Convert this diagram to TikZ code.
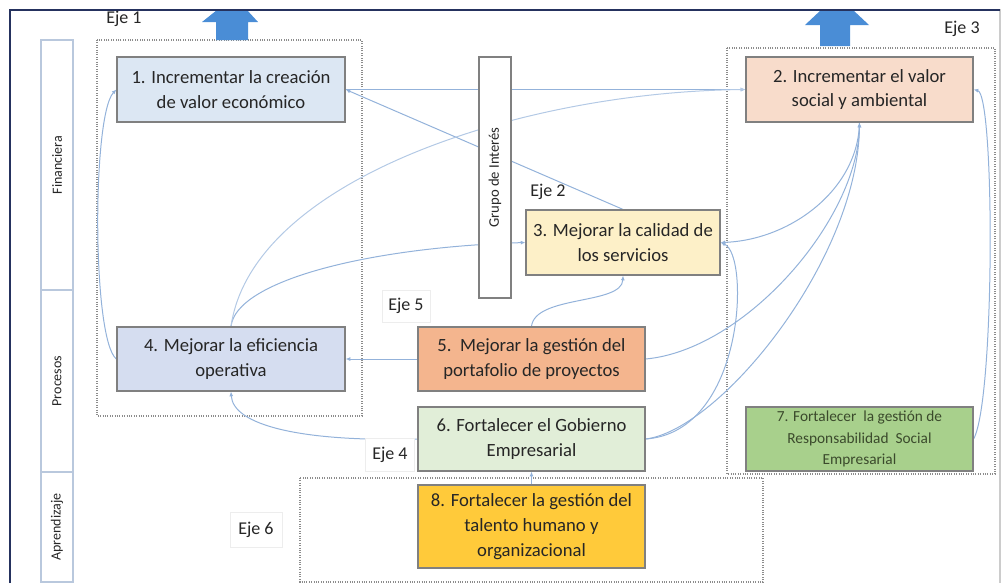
\documentclass[tikz,border=0pt]{standalone}
\usepackage{fontspec}
\setmainfont{Carlito}
\usetikzlibrary{arrows.meta}
\pgfdeclarelayer{back}
\pgfdeclarelayer{bg}
\pgfsetlayers{back,bg,main}
\definecolor{conncol}{HTML}{93B2DA}
\definecolor{boxline}{HTML}{808080}
\definecolor{dashcol}{HTML}{8C8C8C}
\definecolor{bluearrow}{HTML}{4A8DD6}
\definecolor{framecol}{HTML}{25325E}
\definecolor{sidecol}{HTML}{B9C8DD}
\definecolor{txt}{HTML}{262626}
\definecolor{cA}{HTML}{DCE7F3}
\definecolor{cB}{HTML}{F8DCCB}
\definecolor{cC}{HTML}{FDF0C8}
\definecolor{cD}{HTML}{D5DDF0}
\definecolor{cE}{HTML}{F4B58E}
\definecolor{cF}{HTML}{E1EED8}
\definecolor{cG}{HTML}{A8D08C}
\definecolor{cH}{HTML}{FFCA3A}
\definecolor{txtG}{HTML}{3B4A2C}
\tikzset{
  goal/.style={draw=boxline, line width=0.9pt, text=txt, align=center,
    inner sep=1pt, font=\fontsize{14}{18.5}\selectfont},
  conn/.style={draw=conncol, line width=0.75pt, -{Latex[length=3.5pt,width=3pt]}},
  axisbox/.style={draw=dashcol, line width=0.8pt, densely dotted},
  sidebox/.style={draw=sidecol, line width=0.8pt, fill=white, inner sep=0pt},
  sidetext/.style={rotate=90, text=txt, font=\fontsize{10.5}{12}\selectfont},
  ejelabel/.style={text=txt, font=\fontsize{13.5}{15}\selectfont},
  ejebox/.style={draw=black!7, fill=white, line width=0.6pt},
  bigarrow/.style={fill=bluearrow, draw=none}
}
\begin{document}
\begin{tikzpicture}[x=0.75pt,y=-0.75pt]
\useasboundingbox (0,0) rectangle (1004,583);
% frame
\draw[black!20, line width=0.8pt] (10,10) -- (1000,10) -- (1000,583);
% big arrows
\fill[bluearrow] (216,40) -- (216,22) -- (202,22) -- (217,10) -- (247,10) -- (258,22) -- (248,22) -- (248,40) -- cycle;
\fill[bluearrow] (820,46) -- (820,25) -- (805,25) -- (821,10) -- (853,10) -- (869,25) -- (850,25) -- (850,46) -- cycle;
\draw[framecol, line width=1.8pt] (10,583) -- (10,10) -- (1000,10);

% side column
\node[sidebox, minimum width=24pt, minimum height=187.5pt] (fin) at (57,165) {};
\node[sidetext] (fint) at (fin.center) {Financiera};
\node[sidebox, minimum width=24pt, minimum height=136.5pt] (pro) at (57,381) {};
\node[sidetext] (prot) at (pro.center) {Procesos};
\node[sidebox, minimum width=24pt, minimum height=82.5pt] (apr) at (57,527) {};
\node[sidetext] (aprt) at (apr.center) {Aprendizaje};

% dashed axis boxes
\begin{pgfonlayer}{back}
\draw[axisbox] (97,40) rectangle (362,416);
\draw[axisbox] (727,48) rectangle (995,474);
\draw[axisbox] (300,478) rectangle (763,582);
\end{pgfonlayer}

% axis labels
\node[ejelabel] (l1) at (124,19) {Eje 1};
\node[ejelabel] (l3) at (962,29) {Eje 3};
\node[ejelabel] (l2) at (548,192) {Eje 2};
\node[ejebox, minimum width=36pt, minimum height=24pt] (b5) at (406,306) {};
\node[ejelabel] (l5) at (b5.center) {Eje 5};
\node[ejebox, minimum width=37pt, minimum height=25pt] (b4) at (390,455) {};
\node[ejelabel] (l4) at (b4.center) {Eje 4};
\node[ejebox, minimum width=39pt, minimum height=26pt] (b6) at (256,530) {};
\node[ejelabel] (l6) at (b6.center) {Eje 6};

% grupo de interes
\node[draw=boxline, line width=0.8pt, fill=white, minimum width=24pt, minimum height=180.75pt] (gi) at (495,177.5) {};
\node[sidetext, font=\fontsize{11}{12}\selectfont] (git) at (gi.center) {Grupo de Interés};

% goals
\node[goal, fill=cA, minimum width=171pt, minimum height=48.75pt] (n1) at (231,89.5) {1. Incrementar la creación\\de valor económico};
\node[goal, fill=cB, minimum width=170.25pt, minimum height=48.75pt] (n2) at (859.5,89.5) {2. Incrementar el valor\\social y ambiental};
\node[goal, fill=cC, minimum width=145.5pt, minimum height=48.75pt] (n3) at (623,242.5) {3. Mejorar la calidad de\\los servicios};
\node[goal, fill=cD, minimum width=171pt, minimum height=48pt] (n4) at (231,359) {4. Mejorar la eficiencia\\operativa};
\node[goal, fill=cE, minimum width=170.25pt, minimum height=48pt] (n5) at (531.5,359) {5.\ \ Mejorar la gestión del\\portafolio de proyectos};
\node[goal, fill=cF, minimum width=170.25pt, minimum height=48pt] (n6) at (531.5,439) {6. Fortalecer el Gobierno\\Empresarial};
\node[goal, fill=cG, text=txtG, minimum width=170.25pt, minimum height=48pt, font=\fontsize{11.5}{16}\selectfont] (n7) at (859.5,439) {7. Fortalecer\ \ la gestión de\\Responsabilidad\ \ Social\\Empresarial};
\node[goal, fill=cH, minimum width=170.25pt, minimum height=62.25pt] (n8) at (531.5,526.5) {8. Fortalecer la gestión del\\talento humano y\\organizacional};

% connectors
\begin{pgfonlayer}{bg}
\draw[conn] (n1.east) -- (n2.west);
\draw[conn] (n3.north) -- (n1.east);
\draw[conn] (n4.north) .. controls +(5,-45) and +(-160,5) .. (n3.west);
\draw[conn, draw=conncol!70] (n4.north) .. controls (252,180) and (520,92) .. (n2.west);
\draw[conn] (n4.west) .. controls (92,340) and (92,115) .. (n1.west);
\draw[conn] (n5.west) -- (n4.east);
\draw[conn] (n5.north) .. controls (535,295) and (622,305) .. (n3.south);
\draw[conn] (n5.east) .. controls (745,350) and (858,220) .. (n2.south);
\draw[conn] (n6.east) .. controls (720,430) and (858,260) .. (n2.south);
\draw[conn] (n2.south) .. controls (858,190) and (790,240) .. (n3.east);
\draw[conn] (n6.east) .. controls (745,432) and (750,255) .. (n3.east);
\draw[conn] (n7.east) .. controls (995,400) and (995,95) .. (n2.east);
\draw[conn] (n6.west) .. controls (300,442) and (233,425) .. (n4.south);
\draw[conn] (n8.north) -- (n6.south);
\end{pgfonlayer}
\end{tikzpicture}
\end{document}
